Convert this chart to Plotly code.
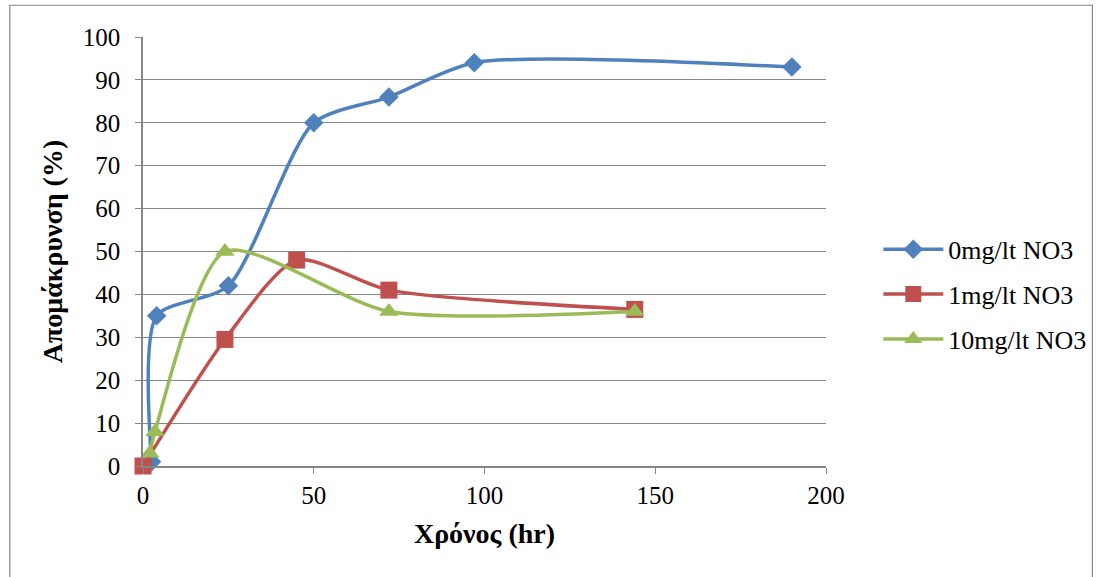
import plotly.graph_objects as go

# Removal (%) over time for three nitrate concentrations
t_0mg = [2.5, 4, 25, 50, 72, 97, 190]
r_0mg = [1, 35, 42, 80, 86, 94, 93]

t_1mg = [0, 24, 45, 72, 144]
r_1mg = [0, 29.5, 48, 41, 36.5]

t_10mg = [2, 3.5, 24, 72, 144]
r_10mg = [3, 8, 50, 36, 36]

series_names = ["0mg/lt NO3", "1mg/lt NO3", "10mg/lt NO3"]
colors = ["#4F81BD", "#C0504D", "#9BBB59"]
symbols = ["diamond", "square", "triangle-up"]
sizes = [15, 17, 17]

x_ticks = [0, 50, 100, 150, 200]
y_ticks = list(range(0, 101, 10))

FONT = "Times New Roman, Liberation Serif, serif"
TICK_FS = 25
LEGEND_FS = 26
TITLE_FS = 28

fig = go.Figure()
for name, xs, ys, c, s, sz in zip(series_names, [t_0mg, t_1mg, t_10mg],
                                  [r_0mg, r_1mg, r_10mg], colors, symbols, sizes):
    fig.add_trace(go.Scatter(
        x=xs, y=ys, name=name, legendgroup=name, mode="lines+markers",
        line=dict(color=c, width=3.5, shape="spline", smoothing=0.7),
        marker=dict(symbol=s, size=sz, color=c),
        cliponaxis=False,
    ))

fig.update_layout(
    width=1102, height=577,
    margin=dict(l=143, r=275, t=37, b=111),
    paper_bgcolor="white", plot_bgcolor="white",
    font=dict(family=FONT, size=TICK_FS, color="black"),
    showlegend=True,
    legend=dict(x=1.075, y=0.40, xanchor="left", yanchor="middle",
                font=dict(family=FONT, size=LEGEND_FS), itemwidth=60,
                traceorder="grouped", tracegroupgap=8,
                bgcolor="rgba(0,0,0,0)"),
    xaxis=dict(range=[0, 200], tickvals=x_ticks, showgrid=False,
               zeroline=False, showline=True, linecolor="#868686", linewidth=1.5,
               ticks="outside", ticklen=6, tickcolor="#868686",
               tickfont=dict(family=FONT, size=TICK_FS),
               title=dict(text="<b>Χρόνος (hr)</b>", font=dict(family=FONT, size=TITLE_FS),
                          standoff=16)),
    yaxis=dict(range=[0, 100], tickvals=y_ticks, showgrid=True,
               gridcolor="#868686", gridwidth=1.2, zeroline=False,
               showline=True, linecolor="#868686", linewidth=1.5,
               ticks="outside", ticklen=6, tickcolor="#868686",
               ticklabelstandoff=10,
               tickfont=dict(family=FONT, size=TICK_FS),
               title=dict(text="<b>Απομάκρυνση (%)</b>", font=dict(family=FONT, size=TITLE_FS),
                          standoff=12)),
    shapes=[dict(type="rect", xref="paper", yref="paper",
                 x0=-0.195, x1=1.39, y0=-0.3, y1=1.074,
                 line=dict(color="#868686", width=1.2), layer="below")],
)

fig.write_html("out.html")
